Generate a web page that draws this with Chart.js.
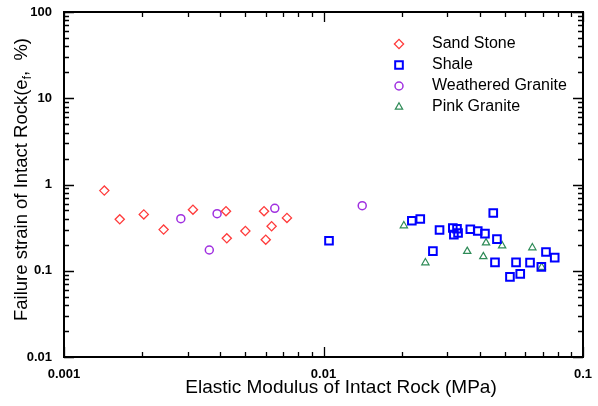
<!DOCTYPE html>
<html>
<head>
<meta charset="utf-8">
<script src="https://cdn.jsdelivr.net/npm/chart.js@4/dist/chart.umd.min.js"></script>
<style>
  html, body { margin: 0; padding: 0; background: #fff; }
  #wrap { width: 598px; height: 406px; }
</style>
</head>
<body>
<div id="wrap"><canvas id="rockChart" width="598" height="406"></canvas></div>
<script>
// data: x = elastic modulus (MPa), y = failure strain (%)
const sandStoneX = [0.00143, 0.00164, 0.00203, 0.00242, 0.00314, 0.00421, 0.00424, 0.00500, 0.00590, 0.00599, 0.00631, 0.00723];
const sandStoneY = [0.85, 0.395, 0.45, 0.30, 0.51, 0.49, 0.238, 0.289, 0.49, 0.229, 0.328, 0.41];

const shaleX = [0.0105, 0.0219, 0.0236, 0.0451, 0.0280, 0.0315, 0.0327, 0.0318, 0.0330, 0.0368, 0.0393, 0.0419, 0.0466, 0.0264, 0.0458, 0.0552, 0.0625, 0.0691, 0.0720, 0.0778, 0.0523, 0.0573];
const shaleY = [0.223, 0.380, 0.398, 0.467, 0.297, 0.313, 0.307, 0.262, 0.274, 0.303, 0.289, 0.269, 0.233, 0.169, 0.125, 0.125, 0.124, 0.111, 0.165, 0.142, 0.085, 0.092];

const weatheredX = [0.00282, 0.00389, 0.00363, 0.00649, 0.0141];
const weatheredY = [0.401, 0.459, 0.174, 0.530, 0.568];

const pinkX = [0.0204, 0.0247, 0.0358, 0.0423, 0.0488, 0.0413, 0.0638, 0.0693];
const pinkY = [0.333, 0.124, 0.168, 0.211, 0.195, 0.146, 0.185, 0.110];

const decadesX = [0.001, 0.01, 0.1];
const decadesY = [0.01, 0.1, 1, 10, 100];

const seriesNames = ["Sand Stone", "Shale", "Weathered Granite", "Pink Granite"];
const seriesColors = ["#ff3b3b", "#0000ff", "#a030e0", "#2e8b57"];
const seriesShapes = ["rectRot", "rect", "circle", "triangle"];
const seriesRadius = [4.6, 5.4, 4, 4.2];
const seriesWidth = [1.3, 2, 1.5, 1.2];

function toPoints(xs, ys) {
  return xs.map((x, i) => ({ x: x, y: ys[i] }));
}

const allX = [sandStoneX, shaleX, weatheredX, pinkX];
const allY = [sandStoneY, shaleY, weatheredY, pinkY];

const datasets = seriesNames.map((name, i) => ({
  label: name,
  data: toPoints(allX[i], allY[i]),
  pointStyle: seriesShapes[i],
  pointRadius: seriesRadius[i],
  pointBorderColor: seriesColors[i],
  pointBackgroundColor: "rgba(0,0,0,0)",
  pointBorderWidth: seriesWidth[i],
  showLine: false
}));

const FONT = "'Liberation Sans', Arial, sans-serif";

// frame, inward ticks, axis titles and legend
const framePlugin = {
  id: "frame",
  afterDraw(chart) {
    const ctx = chart.ctx;
    const a = chart.chartArea;
    const xs = chart.scales.x;
    const ys = chart.scales.y;
    ctx.save();
    ctx.strokeStyle = "#000";
    ctx.lineWidth = 2;
    ctx.strokeRect(a.left, a.top, a.right - a.left, a.bottom - a.top);

    ctx.lineWidth = 1.3;
    ctx.beginPath();
    for (let d = -3; d < -1; d++) {
      for (let m = 1; m <= 10; m++) {
        const v = m * Math.pow(10, d);
        const px = Math.round(xs.getPixelForValue(v)) + 0.5;
        const len = (m === 1 || m === 10) ? 10 : 5;
        ctx.moveTo(px, a.bottom); ctx.lineTo(px, a.bottom - len);
        ctx.moveTo(px, a.top); ctx.lineTo(px, a.top + len);
      }
    }
    for (let d = -2; d < 2; d++) {
      for (let m = 1; m <= 10; m++) {
        const v = m * Math.pow(10, d);
        const py = Math.round(ys.getPixelForValue(v)) + 0.5;
        const len = (m === 1 || m === 10) ? 10 : 5;
        ctx.moveTo(a.left, py); ctx.lineTo(a.left + len, py);
        ctx.moveTo(a.right, py); ctx.lineTo(a.right - len, py);
      }
    }
    ctx.stroke();

    // x title
    ctx.fillStyle = "#000";
    ctx.font = "19px " + FONT;
    ctx.textAlign = "center";
    ctx.textBaseline = "alphabetic";
    ctx.fillText("Elastic Modulus of Intact Rock (MPa)", 341, 393);

    // y title with subscript f
    ctx.save();
    ctx.translate(27, (a.top + a.bottom) / 2 - 5);
    ctx.rotate(-Math.PI / 2);
    const p1 = "Failure strain of Intact Rock(e";
    const p2 = "f";
    const p3 = ",  %)";
    ctx.font = "18.5px " + FONT;
    const w1 = ctx.measureText(p1).width;
    const w3 = ctx.measureText(p3).width;
    ctx.font = "12px " + FONT;
    const w2 = ctx.measureText(p2).width;
    const x0 = -(w1 + w2 + w3) / 2;
    ctx.textAlign = "left";
    ctx.font = "18.5px " + FONT;
    ctx.fillText(p1, x0, 0);
    ctx.font = "12px " + FONT;
    ctx.fillText(p2, x0 + w1, 4);
    ctx.font = "18.5px " + FONT;
    ctx.fillText(p3, x0 + w1 + w2, 0);
    ctx.restore();

    // legend
    ctx.font = "16px " + FONT;
    ctx.textAlign = "left";
    ctx.textBaseline = "middle";
    seriesNames.forEach((name, i) => {
      const y = 44 + i * 21;
      ctx.strokeStyle = seriesColors[i];
      ctx.fillStyle = "rgba(0,0,0,0)";
      ctx.lineWidth = seriesWidth[i];
      Chart.helpers.drawPoint(ctx, {
        pointStyle: seriesShapes[i],
        radius: seriesRadius[i],
        borderWidth: seriesWidth[i]
      }, 399, y);
      ctx.fillStyle = "#000";
      ctx.fillText(name, 432, y);
    });
    ctx.restore();
  }
};

const tickFont = { family: FONT, size: 13, weight: "bold" };

new Chart(document.getElementById("rockChart"), {
  type: "scatter",
  data: { datasets: datasets },
  options: {
    responsive: false,
    animation: false,
    events: [],
    layout: { padding: { top: 12, right: 15, left: 0, bottom: 0 } },
    plugins: { legend: { display: false }, tooltip: { enabled: false } },
    scales: {
      x: {
        type: "logarithmic",
        min: 0.001,
        max: 0.1,
        grid: { display: false },
        border: { display: false },
        afterBuildTicks(scale) { scale.ticks = decadesX.map(v => ({ value: v, major: true })); },
        afterFit(scale) { scale.height = 49; },
        ticks: {
          autoSkip: false,
          maxRotation: 0,
          padding: 2,
          color: "#000",
          font: tickFont,
          callback: v => (decadesX.includes(v) ? String(v) : "")
        }
      },
      y: {
        type: "logarithmic",
        min: 0.01,
        max: 100,
        grid: { display: false },
        border: { display: false },
        afterBuildTicks(scale) { scale.ticks = decadesY.map(v => ({ value: v, major: true })); },
        afterFit(scale) { scale.width = 64; },
        ticks: {
          autoSkip: false,
          padding: 4,
          color: "#000",
          font: tickFont,
          callback: v => (decadesY.includes(v) ? String(v) : "")
        }
      }
    }
  },
  plugins: [framePlugin]
});
</script>
</body>
</html>
